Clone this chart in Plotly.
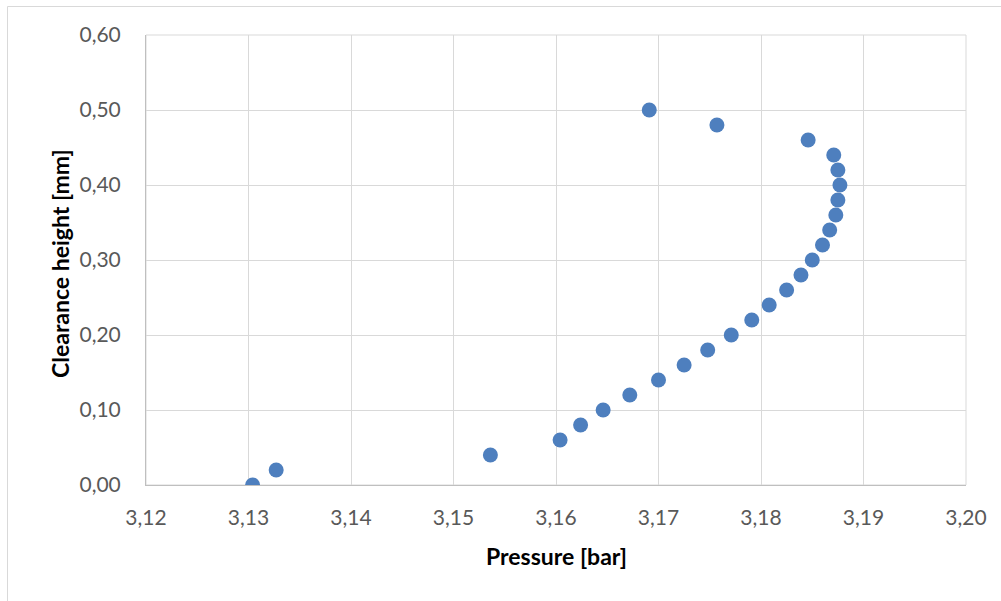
import plotly.graph_objects as go

pressure = [3.1304, 3.1327, 3.1536, 3.1604, 3.1624, 3.1646, 3.1672, 3.1700, 3.1725,
            3.1748, 3.1771, 3.1791, 3.1808, 3.1825, 3.1839, 3.1850, 3.1860, 3.1867,
            3.1873, 3.1875, 3.1877, 3.1875, 3.1871, 3.1846, 3.1757, 3.1691]
height = [0.00, 0.02, 0.04, 0.06, 0.08, 0.10, 0.12, 0.14, 0.16,
          0.18, 0.20, 0.22, 0.24, 0.26, 0.28, 0.30, 0.32, 0.34,
          0.36, 0.38, 0.40, 0.42, 0.44, 0.46, 0.48, 0.50]

x_ticks = [3.12, 3.13, 3.14, 3.15, 3.16, 3.17, 3.18, 3.19, 3.20]
y_ticks = [0.0, 0.1, 0.2, 0.3, 0.4, 0.5, 0.6]

FONT = "Lato"
W, H = 1001, 601
ml, mr, mt, mb = 146, 35, 35, 116
pw, ph = W - ml - mr, H - mt - mb

def px2x(p):
    return (p - ml) / pw

def px2y(p):
    return (H - mb - p) / ph

fig = go.Figure()
fig.add_trace(go.Scatter(
    x=pressure, y=height, mode="markers",
    marker=dict(size=15, color="#4E7FBE", line=dict(width=0)),
    showlegend=False, hoverinfo="x+y",
))

grid = "#D9D9D9"
fig.update_layout(
    width=W, height=H,
    margin=dict(l=ml, r=mr, t=mt, b=mb, pad=0),
    paper_bgcolor="white", plot_bgcolor="white",
    separators=", ",
    font=dict(family=FONT, size=21, color="#595959"),
    xaxis=dict(
        range=[3.12, 3.20], tickvals=x_ticks, tickformat=".2f",
        showgrid=True, gridcolor=grid, gridwidth=1,
        showline=True, linecolor="#BFBFBF", linewidth=1,
        ticks="", zeroline=False, ticklabelstandoff=14,
    ),
    yaxis=dict(
        range=[0, 0.6], tickvals=y_ticks, tickformat=".2f",
        showgrid=True, gridcolor=grid, gridwidth=1,
        showline=True, linecolor="#BFBFBF", linewidth=1,
        ticks="", zeroline=False, ticklabelstandoff=20,
    ),
    annotations=[
        dict(text="<b>Pressure [bar]</b>", xref="paper", yref="paper",
             x=0.5, y=px2y(556), xanchor="center", yanchor="middle",
             showarrow=False, font=dict(family=FONT, size=23, color="#000000")),
        dict(text="<b>Clearance height [mm]</b>", xref="paper", yref="paper",
             x=px2x(60), y=px2y(264), xanchor="center", yanchor="middle",
             textangle=-90, showarrow=False,
             font=dict(family=FONT, size=23, color="#000000")),
    ],
    shapes=[
        dict(type="rect", xref="paper", yref="paper", x0=0, x1=1, y0=0, y1=1,
             line=dict(color=grid, width=1), layer="below"),
        dict(type="line", xref="paper", yref="paper",
             x0=px2x(7.5), x1=px2x(1001), y0=px2y(6.5), y1=px2y(6.5),
             line=dict(color="#D9D9D9", width=1)),
        dict(type="line", xref="paper", yref="paper",
             x0=px2x(7.5), x1=px2x(7.5), y0=px2y(6.5), y1=px2y(601),
             line=dict(color="#D9D9D9", width=1)),
    ],
)

fig.write_html(
    "out.html",
    config={"displayModeBar": False},
    post_script="document.body.style.margin='0';document.body.style.overflow='hidden';",
)
